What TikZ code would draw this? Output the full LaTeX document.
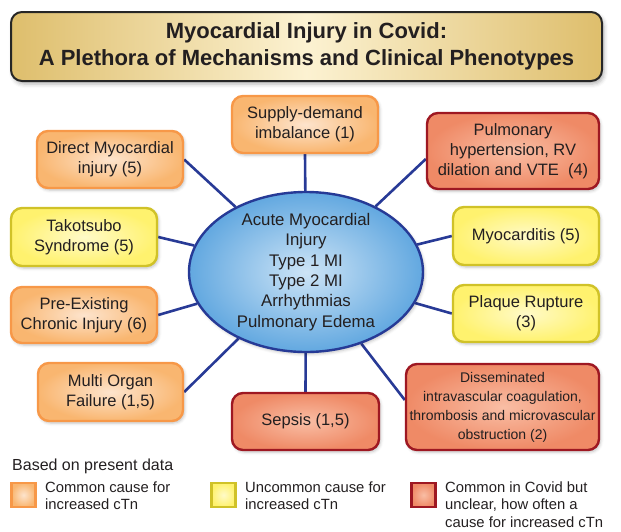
\documentclass[tikz,border=0pt]{standalone}
\usepackage{fontspec}
\setmainfont{Liberation Sans}
\usetikzlibrary{shapes.geometric,shadows.blur,backgrounds}
\definecolor{txt}{RGB}{35,31,32}
\definecolor{obrd}{RGB}{247,152,72}
\definecolor{oin}{RGB}{253,228,205}
\definecolor{oout}{RGB}{249,182,112}
\definecolor{ybrd}{RGB}{208,194,40}
\definecolor{yin}{RGB}{255,250,200}
\definecolor{yout}{RGB}{255,242,110}
\definecolor{rbrd}{RGB}{158,24,34}
\definecolor{rin}{RGB}{249,190,165}
\definecolor{rout}{RGB}{239,138,102}
\definecolor{bbrd}{RGB}{38,58,150}
\definecolor{bin}{RGB}{205,228,246}
\definecolor{bout}{RGB}{98,168,224}
\definecolor{gold}{RGB}{222,190,108}
\definecolor{goldlight}{RGB}{252,242,210}
\definecolor{conn}{RGB}{40,58,150}
\tikzset{
  basebox/.style={rounded corners=11pt, line width=2.4pt, align=center, inner sep=0pt,
    text=txt, font=\fontsize{16.5}{20}\selectfont,
    blur shadow={shadow xshift=1.5pt, shadow yshift=-2pt, shadow blur radius=3pt, shadow opacity=25}},
  orangebox/.style={basebox, draw=obrd, inner color=oin, outer color=oout},
  yellowbox/.style={basebox, draw=ybrd, inner color=yin, outer color=yout},
  redbox/.style={basebox, draw=rbrd, inner color=rin, outer color=rout},
  legsq/.style={line width=2.4pt, minimum width=24pt, minimum height=24pt, inner sep=0pt},
  legtxt/.style={anchor=north west, align=left, inner sep=0pt, text=txt, font=\fontsize{14.8}{17.5}\selectfont},
  connector/.style={draw=conn, line width=2.6pt}
}
\begin{document}
\begin{tikzpicture}[x=1pt,y=-1pt]
\useasboundingbox (0,0) rectangle (621,531);
% title
\node[rounded corners=11pt, line width=2pt, draw=black!85, left color=gold, right color=gold, middle color=goldlight,
  minimum width=591pt, minimum height=69pt, inner sep=0pt, align=center, text=txt,
  font=\bfseries\fontsize{22}{27}\selectfont,
  blur shadow={shadow xshift=2pt, shadow yshift=-3pt, shadow blur radius=4pt, shadow opacity=30}]
  (title) at (306.5,46.5) {Myocardial Injury in Covid:\\A Plethora of Mechanisms and Clinical Phenotypes};
% central ellipse
\node[ellipse, draw=bbrd, line width=2.4pt, inner color=bin, outer color=bout,
  minimum width=234pt, minimum height=160pt, inner sep=0pt,
  blur shadow={shadow xshift=1.5pt, shadow yshift=-2pt, shadow blur radius=3pt, shadow opacity=25}]
  (ell) at (306,272) {};
\node[align=center, inner sep=0pt, text=txt, font=\fontsize{16.8}{20.4}\selectfont] (elltext) at (ell.center)
  {Acute Myocardial\\Injury\\Type 1 MI\\Type 2 MI\\Arrhythmias\\Pulmonary Edema};
% boxes
\node[orangebox, minimum width=146pt, minimum height=57pt] (sd) at (305,124.5) {Supply-demand\\imbalance (1)};
\node[orangebox, minimum width=146pt, minimum height=57pt] (dm) at (110,159.5) {Direct Myocardial\\injury (5)};
\node[redbox, minimum width=172pt, minimum height=76pt] (ph) at (513,151) {Pulmonary\\hypertension, RV\\dilation and VTE~~(4)};
\node[yellowbox, minimum width=146pt, minimum height=58pt] (tk) at (84,237) {Takotsubo\\Syndrome (5)};
\node[yellowbox, minimum width=146pt, minimum height=58pt] (my) at (526,236) {Myocarditis (5)};
\node[orangebox, minimum width=146pt, minimum height=56pt] (pe) at (84,315) {Pre-Existing\\Chronic Injury (6)};
\node[yellowbox, minimum width=146pt, minimum height=57pt] (pr) at (526,313.5) {Plaque Rupture\\(3)};
\node[orangebox, minimum width=145pt, minimum height=58pt] (mo) at (110.5,392) {Multi Organ\\Failure (1,5)};
\node[redbox, minimum width=147pt, minimum height=57pt] (se) at (305.5,421.5) {Sepsis (1,5)};
\node[redbox, minimum width=193pt, minimum height=86pt, font=\fontsize{14}{19}\selectfont] (dic) at (502.5,407)
  {Disseminated\\intravascular coagulation,\\thrombosis and microvascular\\obstruction (2)};
% connectors
\begin{pgfonlayer}{background}
\draw[connector] (sd.south) -- (ell);
\draw[connector] (dm.east) -- (ell);
\draw[connector] ([yshift=-8pt]ph.west) -- (ell);
\draw[connector] (tk.east) -- (ell);
\draw[connector] (my.west) -- (ell);
\draw[connector] (pe.east) -- (ell);
\draw[connector] (pr.west) -- (ell);
\draw[connector] (mo.east) -- (ell);
\draw[connector] (se.north) -- (ell);
\draw[connector] ([yshift=7pt]dic.west) -- (ell);
\end{pgfonlayer}
% legend
\node[anchor=base west, inner sep=0pt, text=txt, font=\fontsize{16}{19}\selectfont] (legtitle) at (12,470) {Based on present data};
\node[legsq, draw=obrd, inner color=oin, outer color=oout] (lo) at (23.5,495) {};
\node[legtxt] (lot) at (45,481.5) {Common cause for\\increased cTn};
\node[legsq, draw=ybrd, inner color=yin, outer color=yout] (ly) at (223.5,495) {};
\node[legtxt] (lyt) at (245,481.5) {Uncommon cause for\\increased cTn};
\node[legsq, draw=rbrd, inner color=rin, outer color=rout] (lr) at (423.5,495) {};
\node[legtxt] (lrt) at (445,481.5) {Common in Covid but\\unclear, how often a\\cause for increased cTn};
\end{tikzpicture}
\end{document}
